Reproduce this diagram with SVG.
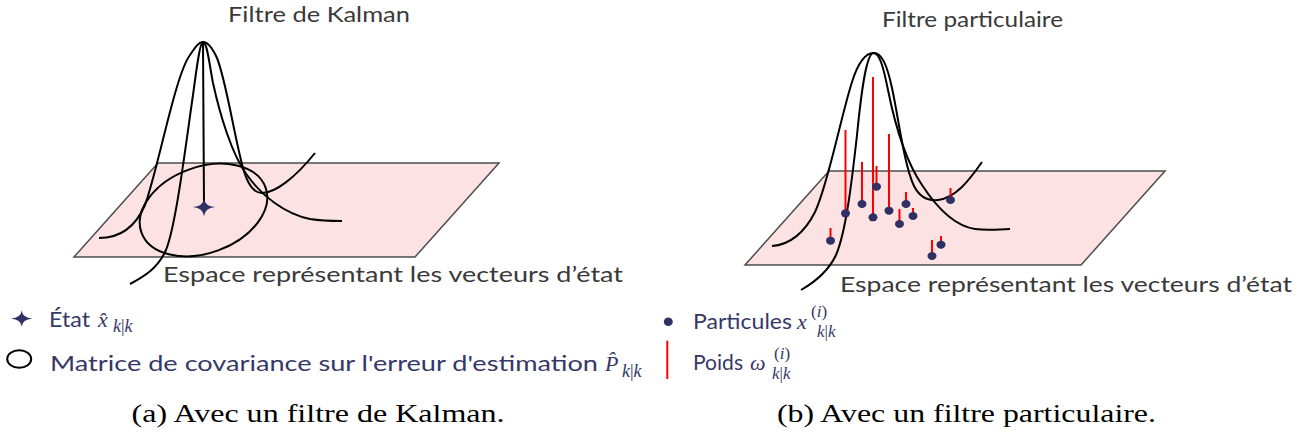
<svg xmlns="http://www.w3.org/2000/svg" width="1314" height="441" viewBox="0 0 1314 441">
<style>
.plane{fill:#fde2e3;stroke:#4d4d4d;stroke-width:1.5}
.curve{fill:none;stroke:#000;stroke-width:2}
.stem{stroke:#ff0000;stroke-width:2}
.part{fill:#2f3165}
.star{fill:#2f3165}
.title{font-family:Lato,"Open Sans",sans-serif;font-size:22px;fill:#3a3a3a}
.leg{font-family:Lato,"Open Sans",sans-serif;font-size:22px;fill:#363868}
.math{font-family:"Liberation Serif","DejaVu Serif",serif;font-style:italic;fill:#363868}
.up{font-style:normal}
.cap{font-family:"Liberation Serif","DejaVu Serif",serif;font-size:25px;fill:#000}
</style>
<rect width="1314" height="441" fill="#fff"/>

<g id="kalman-panel">
  <polygon class="plane" points="158,163 499,163 415,257 74,257"/>
  <text class="title" x="228" y="21.7" textLength="182" lengthAdjust="spacingAndGlyphs">Filtre de Kalman</text>
  <text class="title" x="163" y="281.7" textLength="460" lengthAdjust="spacingAndGlyphs">Espace représentant les vecteurs d’état</text>
</g>

<g id="kalman-covariance">
  <ellipse cx="203.5" cy="210" rx="66" ry="43" transform="rotate(-20 203.5 210)" fill="none" stroke="#000" stroke-width="2"/>
</g>

<g id="kalman-gaussian">
  <path class="curve" d="M99,238 C120,238 135,228 145,205 C158,170 175,75 190,55 C196,46 199,42 203,42 C208,42 212,47 217,58 C226,80 234,135 243,168 C248,186 254,193 262,193 C275,193 295,178 315,153"/>
  <path class="curve" d="M130,284 C145,276 158,268 166,250 C176,225 185,150 193,95 C197,65 200,42 203,42 C207,42 209,62 213,83 C220,115 232,155 247,175 C262,196 285,214 310,219 C322,221 332,221 342,221"/>
  <line x1="203" y1="42" x2="204" y2="206" stroke="#000" stroke-width="2"/>
</g>

<g id="kalman-state">
  <path class="star" d="M193,207 Q203,206 204,199 Q205,206 215,207 Q205,208 204,216 Q203,208 193,207 Z"/>
</g>

<g id="particle-panel">
  <polygon class="plane" points="829,171 1165,171 1081,265 745,265"/>
  <text class="title" x="882" y="26.7" textLength="181" lengthAdjust="spacingAndGlyphs">Filtre particulaire</text>
  <text class="title" x="840" y="291.7" textLength="452" lengthAdjust="spacingAndGlyphs">Espace représentant les vecteurs d’état</text>
</g>

<g id="particle-gaussian">
  <path class="curve" d="M772,246 C790,245 805,232 815,212 C828,185 840,120 852,82 C858,63 865,53 873.6,53 C882,53 887,65 892,88 C898,115 904,165 914,186 C920,198 928,201 938,200 C955,198 968,182 982,162"/>
  <path class="curve" d="M801,290 C815,282 828,272 836,255 C846,232 852,180 857,135 C861,95 866,53 873.6,53 C880,53 884,70 888,90 C895,125 905,160 922,185 C937,208 955,226 975,229 C990,231 1000,229 1010,229"/>
</g>

<g id="particles">
  <line class="stem" x1="845.5" y1="130" x2="845.5" y2="213"/>
  <line class="stem" x1="862" y1="162" x2="862" y2="204"/>
  <line class="stem" x1="873" y1="77" x2="873" y2="217"/>
  <line class="stem" x1="876.5" y1="166" x2="876.5" y2="187"/>
  <line class="stem" x1="889" y1="134" x2="889" y2="211"/>
  <line class="stem" x1="906" y1="192" x2="906" y2="204"/>
  <line class="stem" x1="899.5" y1="209" x2="899.5" y2="224"/>
  <line class="stem" x1="913" y1="208" x2="913" y2="216"/>
  <line class="stem" x1="950.5" y1="188" x2="950.5" y2="200"/>
  <line class="stem" x1="830.5" y1="228" x2="830.5" y2="241"/>
  <line class="stem" x1="932" y1="240" x2="932" y2="256"/>
  <line class="stem" x1="941" y1="236" x2="941" y2="245"/>
  <ellipse class="part" cx="845.5" cy="213.3" rx="4.5" ry="4"/>
  <ellipse class="part" cx="862" cy="204" rx="4.5" ry="4"/>
  <ellipse class="part" cx="873" cy="217.3" rx="4.5" ry="4"/>
  <ellipse class="part" cx="876.5" cy="186.7" rx="4.5" ry="4"/>
  <ellipse class="part" cx="889" cy="210.7" rx="4.5" ry="4"/>
  <ellipse class="part" cx="906" cy="204" rx="4.5" ry="4"/>
  <ellipse class="part" cx="899.5" cy="224" rx="4.5" ry="4"/>
  <ellipse class="part" cx="913" cy="216" rx="4.5" ry="4"/>
  <ellipse class="part" cx="950.5" cy="200" rx="4.5" ry="4"/>
  <ellipse class="part" cx="830.5" cy="240.7" rx="4.5" ry="4"/>
  <ellipse class="part" cx="932" cy="256" rx="4.5" ry="4"/>
  <ellipse class="part" cx="941" cy="244.7" rx="4.5" ry="4"/>
</g>

<g id="legend-kalman">
  <path class="star" d="M11,318.5 Q21,317.5 21.7,310.5 Q22.4,317.5 32.4,318.5 Q22.4,319.5 21.7,326.5 Q21,319.5 11,318.5 Z"/>
  <text class="leg" x="49" y="326.7" textLength="41" lengthAdjust="spacingAndGlyphs">État</text>
  <text class="math" x="98" y="326.7" font-size="22">x̂<tspan x="113" y="331.7" font-size="18">k<tspan class="up">|</tspan>k</tspan></text>
  <ellipse cx="19.2" cy="359" rx="12" ry="8.8" fill="none" stroke="#000" stroke-width="2"/>
  <text class="leg" x="50" y="371" textLength="548" lengthAdjust="spacingAndGlyphs">Matrice de covariance sur l'erreur d'estimation</text>
  <text class="math" x="605" y="371" font-size="22">P̂<tspan x="622" y="376.5" font-size="18">k<tspan class="up">|</tspan>k</tspan></text>
</g>

<g id="legend-particle">
  <ellipse class="part" cx="668.3" cy="321.7" rx="4.5" ry="4.3"/>
  <text class="leg" x="693" y="329" textLength="99" lengthAdjust="spacingAndGlyphs">Particules</text>
  <text class="math" x="797" y="329" font-size="22">x<tspan x="811" y="316.5" font-size="17"><tspan class="up">(</tspan>i<tspan class="up">)</tspan></tspan><tspan x="817" y="337" font-size="17">k<tspan class="up">|</tspan>k</tspan></text>
  <line class="stem" x1="667.3" y1="340.7" x2="667.3" y2="379"/>
  <text class="leg" x="693" y="370" textLength="50" lengthAdjust="spacingAndGlyphs">Poids</text>
  <text class="math" x="750" y="370" font-size="22">ω<tspan x="774" y="358.5" font-size="17"><tspan class="up">(</tspan>i<tspan class="up">)</tspan></tspan><tspan x="772" y="378.5" font-size="17">k<tspan class="up">|</tspan>k</tspan></text>
</g>

<g id="captions">
  <text class="cap" x="131.6" y="422" textLength="373" lengthAdjust="spacingAndGlyphs">(a) Avec un filtre de Kalman.</text>
  <text class="cap" x="777" y="422" textLength="379" lengthAdjust="spacingAndGlyphs">(b) Avec un filtre particulaire.</text>
</g>
</svg>
